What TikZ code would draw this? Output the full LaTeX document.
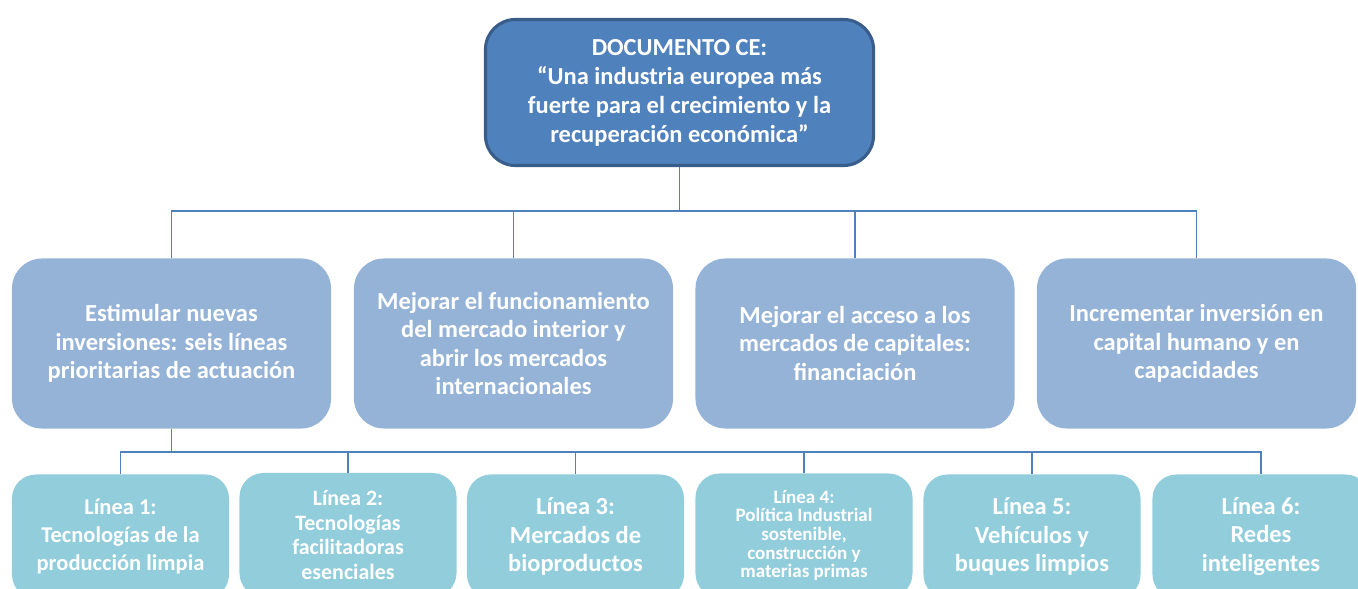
\documentclass[tikz,border=0pt]{standalone}
\usepackage{fontspec}
\setmainfont{Carlito}
\usepackage{tikz}

\definecolor{docblue}{HTML}{4F81BD}
\definecolor{docborder}{HTML}{385D8A}
\definecolor{aimblue}{HTML}{95B3D7}
\definecolor{lineblue}{HTML}{92CDDC}
\definecolor{connblue}{HTML}{4F81BD}

\tikzset{
  docbox/.style={draw=docborder, line width=2.2pt, fill=docblue, rounded corners=0.75cm,
    minimum width=9.7cm, minimum height=3.65cm, text=white, align=center,
    font=\bfseries\fontsize{17.4}{20.6}\selectfont},
  aimbox/.style={fill=aimblue, rounded corners=0.75cm, minimum width=7.975cm,
    minimum height=4.25cm, text=white, align=center,
    font=\bfseries\fontsize{17.4}{20.2}\selectfont},
  linebox/.style={fill=lineblue, rounded corners=0.6cm, minimum width=5.425cm,
    minimum height=3.1cm, text=white, align=center,
    font=\bfseries\fontsize{17.4}{20.2}\selectfont},
  conn/.style={draw=connblue, line width=1pt}
}

\begin{document}
\begin{tikzpicture}[x=0.025cm, y=-0.025cm]
    \useasboundingbox (0,0) rectangle (1358,589);

    \node[docbox] (doc) at (679.5,92.5) {DOCUMENTO CE:\\ “Una industria europea más\\ fuerte para el crecimiento y la\\ recuperación económica”};

    \node[aimbox] (a1) at (171.5,343.5) {Estimular nuevas\\ inversiones: seis líneas\\ prioritarias de actuación};
    \node[aimbox] (a2) at (513.5,343.5) {Mejorar el funcionamiento\\ del mercado interior y\\ abrir los mercados\\ internacionales};
    \node[aimbox] (a3) at (855,343.5) {Mejorar el acceso a los\\ mercados de capitales:\\ financiación};
    \node[aimbox] (a4) at (1196.5,343.5) {Incrementar inversión en\\ capital humano y en\\ capacidades};

    \node[linebox, font=\bfseries\fontsize{16}{20.2}\selectfont] (l1) at (120.5,536.5) {Línea 1:\\ Tecnologías de la\\ producción limpia};
    \node[linebox, font=\bfseries\fontsize{15.6}{17.4}\selectfont] (l2) at (348,535) {Línea 2:\\ Tecnologías\\ facilitadoras\\ esenciales};
    \node[linebox] (l3) at (575.5,536.5) {Línea 3:\\ Mercados de\\ bioproductos};
    \node[linebox, font=\bfseries\fontsize{13.5}{13.3}\selectfont] (l4) at (804,535.5) {Línea 4:\\ Política Industrial\\ sostenible,\\ construcción y\\ materias primas};
    \node[linebox] (l5) at (1032,536.5) {Línea 5:\\ Vehículos y\\ buques limpios};
    \node[linebox] (l6) at (1261,536.5) {Línea 6:\\ Redes\\ inteligentes};

    \coordinate (bus1) at (679.5,211);
    \coordinate (bus2) at (171.5,452);

    % top level
    \draw[conn] (doc.south) -- (bus1);
    \draw[conn] (a1.north) |- (bus1) -| (a4.north);
    \draw[conn] (a2.north) -- (a2.north |- bus1);
    \draw[conn] (a3.north) -- (a3.north |- bus1);

    % lines of action
    \draw[conn] (a1.south) -- (bus2);
    \draw[conn] (l1.north) |- (bus2) -| (l6.north);
    \draw[conn] (l2.north) -- (l2.north |- bus2);
    \draw[conn] (l3.north) -- (l3.north |- bus2);
    \draw[conn] (l4.north) -- (l4.north |- bus2);
    \draw[conn] (l5.north) -- (l5.north |- bus2);
\end{tikzpicture}
\end{document}
